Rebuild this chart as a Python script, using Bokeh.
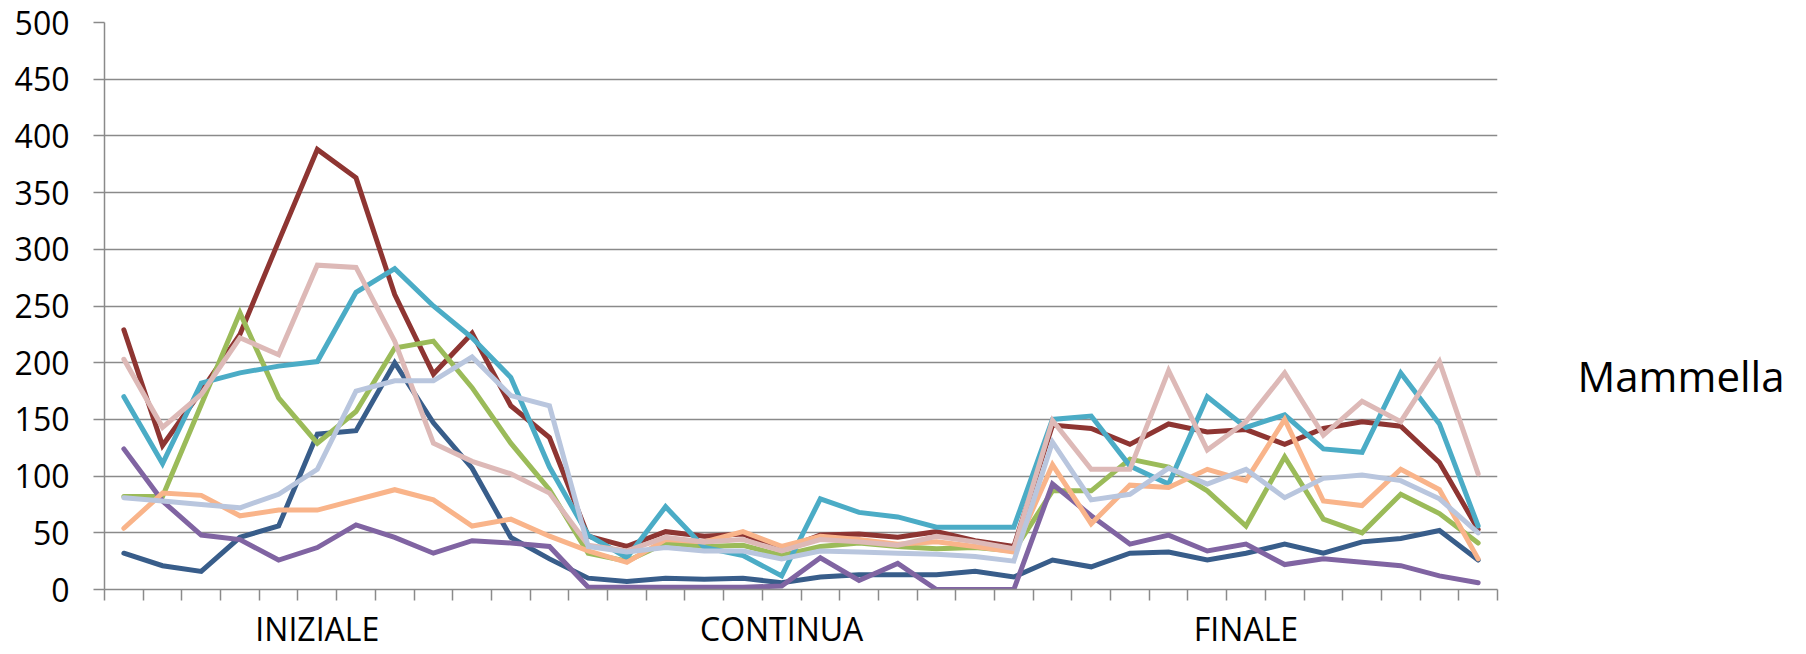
import numpy as np
from bokeh.plotting import figure
from bokeh.models import Range1d, FixedTicker, LinearAxis
from bokeh.embed import file_html
from bokeh.resources import INLINE

groups = ["INIZIALE", "CONTINUA", "FINALE"]
points_per_group = 12
legend_text = "Mammella"
y_ticks = [0, 50, 100, 150, 200, 250, 300, 350, 400, 450, 500]

s_blue = [32, 21, 16, 46, 56, 137, 140, 200, 147, 107, 46, 27,
          10, 7, 10, 9, 10, 6, 11, 13, 13, 13, 16, 11,
          26, 20, 32, 33, 26, 32, 40, 32, 42, 45, 52, 26]
s_red = [229, 127, 175, 225, 307, 388, 363, 260, 190, 226, 162, 134,
         47, 38, 51, 47, 49, 35, 48, 49, 46, 51, 43, 38,
         145, 142, 128, 146, 139, 141, 128, 142, 148, 144, 112, 53]
s_green = [82, 82, 163, 244, 169, 129, 157, 213, 219, 178, 129, 88,
           32, 25, 41, 38, 39, 30, 38, 41, 38, 36, 37, 34,
           87, 87, 115, 108, 87, 56, 117, 62, 50, 84, 67, 41]
s_purple = [124, 78, 48, 44, 26, 37, 57, 46, 32, 43, 41, 38,
            2, 2, 2, 2, 2, 3, 28, 8, 23, 0, 0, 0,
            93, 65, 40, 48, 34, 40, 22, 27, 24, 21, 12, 6]
s_cyan = [170, 111, 182, 191, 197, 201, 262, 283, 250, 222, 187, 108,
          48, 28, 73, 37, 30, 12, 80, 68, 64, 55, 55, 55,
          150, 153, 109, 93, 170, 143, 154, 124, 121, 191, 146, 56]
s_orange = [54, 85, 83, 65, 70, 70, 79, 88, 79, 56, 62, 47,
            34, 24, 44, 42, 51, 38, 47, 44, 40, 42, 38, 33,
            110, 58, 92, 90, 106, 96, 150, 78, 74, 106, 88, 27]
s_pink = [203, 143, 172, 222, 207, 286, 284, 219, 129, 113, 102, 85,
          39, 34, 46, 42, 44, 34, 44, 42, 39, 47, 42, 36,
          149, 106, 106, 193, 123, 148, 191, 136, 166, 148, 201, 102]
s_lightblue = [81, 78, 75, 72, 84, 106, 175, 184, 184, 205, 171, 162,
               38, 33, 37, 34, 34, 27, 34, 33, 32, 31, 29, 25,
               130, 79, 84, 107, 93, 106, 81, 98, 101, 96, 80, 50]

series = [s_blue, s_red, s_green, s_purple, s_cyan, s_orange, s_pink, s_lightblue]
colors = ["#385D8A", "#8E3532", "#9BBB59", "#8064A2", "#4BACC6", "#F9B48A", "#DDB9B7", "#B9C6DE"]

n = len(groups) * points_per_group
xs = np.arange(n) + 0.5

p = figure(width=1806, height=654, x_range=Range1d(0, n), y_range=Range1d(0, 500),
           output_backend="svg", toolbar_location=None,
           min_border_left=104, min_border_right=309, min_border_top=22, min_border_bottom=65)
p.outline_line_color = None
p.background_fill_color = "white"
p.border_fill_color = "white"

grid_col = "#8A8A8A"
p.xgrid.visible = False
p.ygrid.grid_line_color = grid_col
p.ygrid.grid_line_width = 1.5
p.ygrid.ticker = FixedTicker(ticks=y_ticks)

p.yaxis.ticker = FixedTicker(ticks=y_ticks)
p.yaxis.axis_line_color = grid_col
p.yaxis.axis_line_width = 1.5
p.yaxis.major_tick_line_color = grid_col
p.yaxis.major_tick_line_width = 1.5
p.yaxis.major_tick_out = 11
p.yaxis.major_tick_in = 0
p.yaxis.minor_tick_line_color = None
p.yaxis.major_label_text_font = "Open Sans"
p.yaxis.major_label_text_font_size = "32px"
p.yaxis.major_label_text_color = "black"
p.yaxis.major_label_standoff = 24

# category axis: tick marks at every category boundary, group names centred on the 6th category
group_pos = [gi * points_per_group + 5.5 for gi in range(len(groups))]
p.xaxis.ticker = FixedTicker(ticks=group_pos, minor_ticks=list(range(n + 1)))
p.xaxis.major_label_overrides = {gp: g for gp, g in zip(group_pos, groups)}
p.xaxis.axis_line_color = grid_col
p.xaxis.axis_line_width = 1.5
p.xaxis.major_tick_line_color = None
p.xaxis.major_tick_out = 0
p.xaxis.major_tick_in = 0
p.xaxis.minor_tick_line_color = grid_col
p.xaxis.minor_tick_line_width = 1.5
p.xaxis.minor_tick_out = 11
p.xaxis.minor_tick_in = 0
p.xaxis.major_label_text_font = "Open Sans"
p.xaxis.major_label_text_font_size = "32px"
p.xaxis.major_label_text_color = "black"
p.xaxis.major_label_standoff = 6

# legend-like text on the right, placed through a right axis with one labelled tick
legend_y = 189
rax = LinearAxis(ticker=FixedTicker(ticks=[legend_y]),
                 major_label_overrides={legend_y: legend_text})
rax.axis_line_color = None
rax.major_tick_line_color = None
rax.minor_tick_line_color = None
rax.major_tick_out = 0
rax.major_label_standoff = 80
rax.major_label_text_font = "Open Sans"
rax.major_label_text_font_size = "42px"
rax.major_label_text_color = "black"
p.add_layout(rax, "right")

for vals, col in zip(series, colors):
    p.line(xs, vals, line_color=col, line_width=5, line_join="miter", line_cap="round")

open("out.html", "w").write(file_html(p, INLINE))
